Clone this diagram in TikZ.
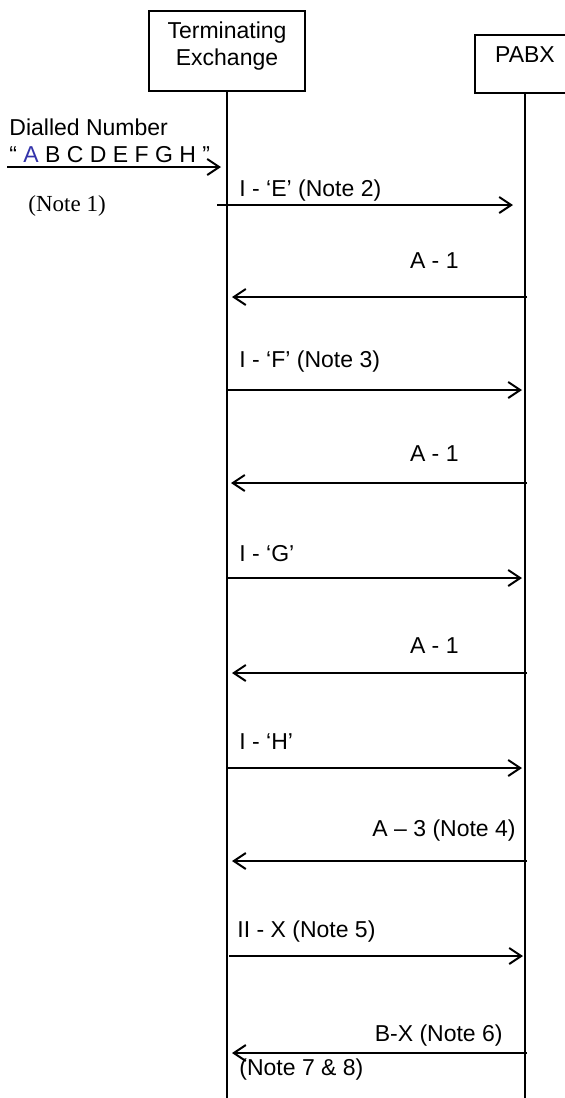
\documentclass[tikz,border=0pt]{standalone}
\usepackage{fontspec}
\setmainfont{Liberation Sans}
\newfontfamily\notefont{Liberation Serif}
\usetikzlibrary{arrows.meta,positioning}
\definecolor{digitblue}{RGB}{51,51,170}

\begin{document}
\begin{tikzpicture}[x=0.5pt, y=-0.5pt, >={Straight Barb[length=6pt,width=8pt]}, font=\fontsize{11.5}{13.5}\selectfont]
        % Styles
        \tikzstyle{entity} = [rectangle, draw, line width=1pt, inner sep=0pt, align=center]
        \tikzstyle{lifeline} = [draw, line width=1.2pt]
        \tikzstyle{msg} = [draw, ->, line width=1pt]
        \tikzstyle{msgtext} = [inner sep=0pt]

        \useasboundingbox (0,0) rectangle (565,1098);

        % Nodes
        \node [entity, minimum width=78pt, minimum height=40pt, text depth=7.5pt] (te) at (227,51) {Terminating\\Exchange};
        \node [entity, minimum width=50pt, minimum height=29pt, text depth=9.5pt] (pabx) at (525,64) {PABX};
        \coordinate (teend) at (227,1098);
        \coordinate (pabxend) at (525,1098);

        \path [lifeline] (te) -- (teend);
        \path [lifeline] (pabx) -- (pabxend);

        % Dialled number
        \coordinate (dialin) at (7,167);
        \coordinate (dialto) at (221,167);
        \path [msg] (dialin) -- (dialto);
        \node [msgtext, anchor=base west] (dialled) at (9,135) {Dialled Number};
        \node [msgtext, anchor=base west] (digits) at (9,162) {“ \textcolor{digitblue}{A} B C D E F G H ”};
        \node [msgtext, anchor=base west, font=\notefont\fontsize{11.5}{13.5}\selectfont] (note1) at (28,211) {(Note 1)};

        % Message ends
        \coordinate (e1) at (217,205);  \coordinate (p1) at (513,205);
        \coordinate (e2) at (232,297);  \coordinate (p2) at (527,297);
        \coordinate (e3) at (227,390);  \coordinate (p3) at (522,390);
        \coordinate (e4) at (231,483);  \coordinate (p4) at (527,483);
        \coordinate (e5) at (227,578);  \coordinate (p5) at (522,578);
        \coordinate (e6) at (232,673);  \coordinate (p6) at (527,673);
        \coordinate (e7) at (227,768);  \coordinate (p7) at (522,768);
        \coordinate (e8) at (232,861);  \coordinate (p8) at (527,861);
        \coordinate (e9) at (229,956);  \coordinate (p9) at (523,956);
        \coordinate (e10) at (232,1053); \coordinate (p10) at (527,1053);

        % Edges
        \path [msg] (e1) -- (p1);
        \path [msg] (p2) -- (e2);
        \path [msg] (e3) -- (p3);
        \path [msg] (p4) -- (e4);
        \path [msg] (e5) -- (p5);
        \path [msg] (p6) -- (e6);
        \path [msg] (e7) -- (p7);
        \path [msg] (p8) -- (e8);
        \path [msg] (e9) -- (p9);
        \path [msg] (p10) -- (e10);

        % Labels
        \node [msgtext, anchor=base west] (m1) at (239,196) {I - ‘E’ (Note 2)};
        \node [msgtext, anchor=base east] (m2) at (459,268) {A - 1};
        \node [msgtext, anchor=base west] (m3) at (239,367) {I - ‘F’ (Note 3)};
        \node [msgtext, anchor=base east] (m4) at (459,461) {A - 1};
        \node [msgtext, anchor=base west] (m5) at (239,561) {I - ‘G’};
        \node [msgtext, anchor=base east] (m6) at (459,653) {A - 1};
        \node [msgtext, anchor=base west] (m7) at (239,749) {I - ‘H’};
        \node [msgtext, anchor=base east] (m8) at (516,836) {A – 3 (Note 4)};
        \node [msgtext, anchor=base west] (m9) at (237,937) {II - X (Note 5)};
        \node [msgtext, anchor=base east] (m10) at (503,1041) {B-X (Note 6)};
        \node [msgtext, anchor=base west] (m11) at (239,1075) {(Note 7 \& 8)};

    \end{tikzpicture}
\end{document}
